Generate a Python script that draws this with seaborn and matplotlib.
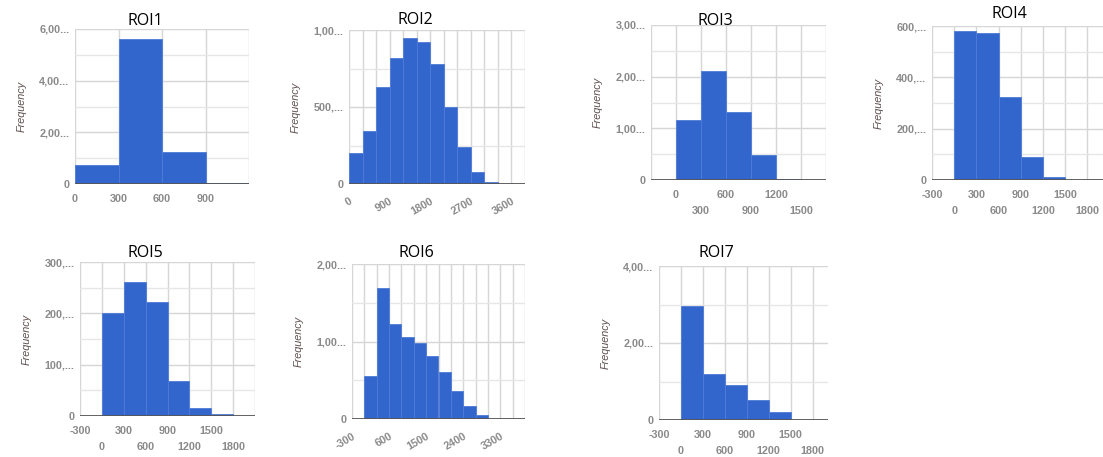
import numpy as np
import matplotlib
matplotlib.use("Agg")
import matplotlib.pyplot as plt
import seaborn as sns

# ---------------- data ----------------
titles = ["ROI1", "ROI2", "ROI3", "ROI4", "ROI5", "ROI6", "ROI7"]
bin_width = 300

roi1_starts = [0, 300, 600, 900]
roi1_counts = [753, 5600, 1234, 40]
roi2_starts = [0, 300, 600, 900, 1200, 1500, 1800, 2100, 2400, 2700, 3000, 3300]
roi2_counts = [202, 341, 627, 818, 948, 924, 777, 499, 243, 78, 13, 3]
roi3_starts = [0, 300, 600, 900, 1200]
roi3_counts = [1155, 2110, 1323, 477, 13]
roi4_starts = [0, 300, 600, 900, 1200]
roi4_counts = [582, 572, 324, 89, 12]
roi5_starts = [0, 300, 600, 900, 1200, 1500]
roi5_counts = [200, 261, 222, 69, 15, 4]
roi6_starts = [0, 300, 600, 900, 1200, 1500, 1800, 2100, 2400, 2700]
roi6_counts = [555, 1695, 1226, 1062, 981, 817, 606, 361, 172, 56]
roi7_starts = [0, 300, 600, 900, 1200]
roi7_counts = [2974, 1190, 897, 526, 207]

# tick labels ("\n" prefix = label sits on the second row)
roi1_xticks = [0, 300, 600, 900]
roi1_xlabels = ["0", "300", "600", "900"]
roi1_yticks = [0, 2000, 4000, 6000]
roi1_ylabels = ["0", "2,00...", "4,00...", "6,00..."]

roi2_xticks = [0, 900, 1800, 2700, 3600]
roi2_xlabels = ["0", "900", "1800", "2700", "3600"]
roi2_yticks = [0, 500, 1000]
roi2_ylabels = ["0", "500,...", "1,00..."]

roi3_xticks = [0, 300, 600, 900, 1200, 1500]
roi3_xlabels = ["0", "\n300", "600", "\n900", "1200", "\n1500"]
roi3_yticks = [0, 1000, 2000, 3000]
roi3_ylabels = ["0", "1,00...", "2,00...", "3,00..."]

roi4_xticks = [-300, 0, 300, 600, 900, 1200, 1500, 1800]
roi4_xlabels = ["-300", "\n0", "300", "\n600", "900", "\n1200", "1500", "\n1800"]
roi4_yticks = [0, 200, 400, 600]
roi4_ylabels = ["0", "200,...", "400,...", "600,..."]

roi5_xticks = [-300, 0, 300, 600, 900, 1200, 1500, 1800]
roi5_xlabels = ["-300", "\n0", "300", "\n600", "900", "\n1200", "1500", "\n1800"]
roi5_yticks = [0, 100, 200, 300]
roi5_ylabels = ["0", "100,...", "200,...", "300,..."]

roi6_xticks = [-300, 600, 1500, 2400, 3300]
roi6_xlabels = ["-300", "600", "1500", "2400", "3300"]
roi6_yticks = [0, 1000, 2000]
roi6_ylabels = ["0", "1,00...", "2,00..."]

roi7_xticks = [-300, 0, 300, 600, 900, 1200, 1500, 1800]
roi7_xlabels = ["-300", "\n0", "300", "\n600", "900", "\n1200", "1500", "\n1800"]
roi7_yticks = [0, 2000, 4000]
roi7_ylabels = ["0", "2,00...", "4,00..."]

# ---------------- layout / style ----------------
W, H = 1103, 457
sns.set_style("white")
plt.rcParams["font.family"] = ["Liberation Sans", "DejaVu Sans"]

BLUE = "#3366cc"
EDGE = "#4d7bd6"
GRID = "#d6d6d6"
GRID_MINOR = "#e6e6e6"
TICKC = "#8a8a8a"
TICKFS = 7.8

panels = [
    dict(box=(75, 29, 249, 184), xlim=(0, 1200), rot=False, tc=(145, 21),
         s=roi1_starts, c=roi1_counts, xt=roi1_xticks, xl=roi1_xlabels, yt=roi1_yticks, yl=roi1_ylabels),
    dict(box=(349, 30, 525, 184), xlim=(0, 3900), rot=True, tc=(415, 20),
         s=roi2_starts, c=roi2_counts, xt=roi2_xticks, xl=roi2_xlabels, yt=roi2_yticks, yl=roi2_ylabels),
    dict(box=(651, 25, 826, 180), xlim=(-300, 1800), rot=False, tc=(715, 21),
         s=roi3_starts, c=roi3_counts, xt=roi3_xticks, xl=roi3_xlabels, yt=roi3_yticks, yl=roi3_ylabels),
    dict(box=(932, 26, 1103, 180), xlim=(-300, 2010), rot=False, tc=(1009, 14),
         s=roi4_starts, c=roi4_counts, xt=roi4_xticks, xl=roi4_xlabels, yt=roi4_yticks, yl=roi4_ylabels),
    dict(box=(80, 262, 255, 416), xlim=(-300, 2100), rot=False, tc=(145, 253),
         s=roi5_starts, c=roi5_counts, xt=roi5_xticks, xl=roi5_xlabels, yt=roi5_yticks, yl=roi5_ylabels),
    dict(box=(352, 264, 525, 419), xlim=(-300, 3900), rot=True, tc=(416, 253),
         s=roi6_starts, c=roi6_counts, xt=roi6_xticks, xl=roi6_xlabels, yt=roi6_yticks, yl=roi6_ylabels),
    dict(box=(659, 266, 828, 420), xlim=(-300, 2010), rot=False, tc=(716, 253),
         s=roi7_starts, c=roi7_counts, xt=roi7_xticks, xl=roi7_xlabels, yt=roi7_yticks, yl=roi7_ylabels),
]

fig = plt.figure(figsize=(W / 100, H / 100), dpi=100)
fig.patch.set_facecolor("white")

for title, p in zip(titles, panels):
    l, t, r, b = p["box"]
    ax = fig.add_axes([l / W, 1 - b / H, (r - l) / W, (b - t) / H])
    starts, counts = p["s"], p["c"]
    sns.histplot(x=starts, weights=counts, binwidth=bin_width,
                 binrange=(starts[0], starts[-1] + bin_width),
                 color=BLUE, alpha=1, edgecolor=EDGE, linewidth=0.6,
                 ax=ax, zorder=3)
    ax.set_xlim(*p["xlim"])
    ytop = p["yt"][-1]
    ax.set_ylim(0, ytop)
    # grid
    x0 = p["xlim"][0]
    xgrid = np.arange(x0, p["xlim"][1] + 1, bin_width)
    ystep = p["yt"][1] - p["yt"][0]
    ygrid_minor = np.arange(ystep / 2, ytop, ystep)
    for xv in xgrid:
        ax.axvline(xv, color=GRID, lw=1.0, zorder=1)
    for yv in p["yt"][1:]:
        ax.axhline(yv, color=GRID, lw=1.0, zorder=1)
    for yv in ygrid_minor:
        ax.axhline(yv, color=GRID_MINOR, lw=1.0, zorder=1)
    ax.axhline(0, color="#555555", lw=1.3, zorder=4)
    for sp in ax.spines.values():
        sp.set_visible(False)
    ax.set_yticks(p["yt"])
    ax.set_yticklabels(p["yl"], fontweight="bold")
    if p["rot"]:
        ax.set_xticks(p["xt"])
        ax.set_xticklabels(p["xl"], rotation=30, ha="right", rotation_mode="anchor",
                           fontweight="bold")
        ax.tick_params(axis="x", pad=9)
    else:
        row1 = [(v, s) for v, s in zip(p["xt"], p["xl"]) if not s.startswith("\n")]
        row2 = [(v, s.strip()) for v, s in zip(p["xt"], p["xl"]) if s.startswith("\n")]
        ax.set_xticks([v for v, _ in row1])
        ax.set_xticklabels([s for _, s in row1], fontweight="bold")
        ax.tick_params(axis="x", which="major", pad=7)
        if row2:
            ax.set_xticks([v for v, _ in row2], minor=True)
            ax.set_xticklabels([s for _, s in row2], minor=True, fontweight="bold")
            ax.tick_params(axis="x", which="minor", pad=18.5)
    ax.tick_params(axis="both", which="both", length=0, labelsize=TICKFS, labelcolor=TICKC)
    ax.tick_params(axis="y", pad=4)
    ax.set_xlabel("")
    ax.set_ylabel("Frequency", fontsize=7.8, style="italic", color="#5e4f4f")
    ax.yaxis.set_label_coords(-48 / (r - l), 0.5)
    ax.set_facecolor("white")
    fig.text(p["tc"][0] / W, 1 - p["tc"][1] / H, title, ha="center", va="center",
             fontsize=11.5, color="black", family=["Open Sans", "DejaVu Sans"])

fig.savefig("out.png", dpi=100, facecolor="white")
